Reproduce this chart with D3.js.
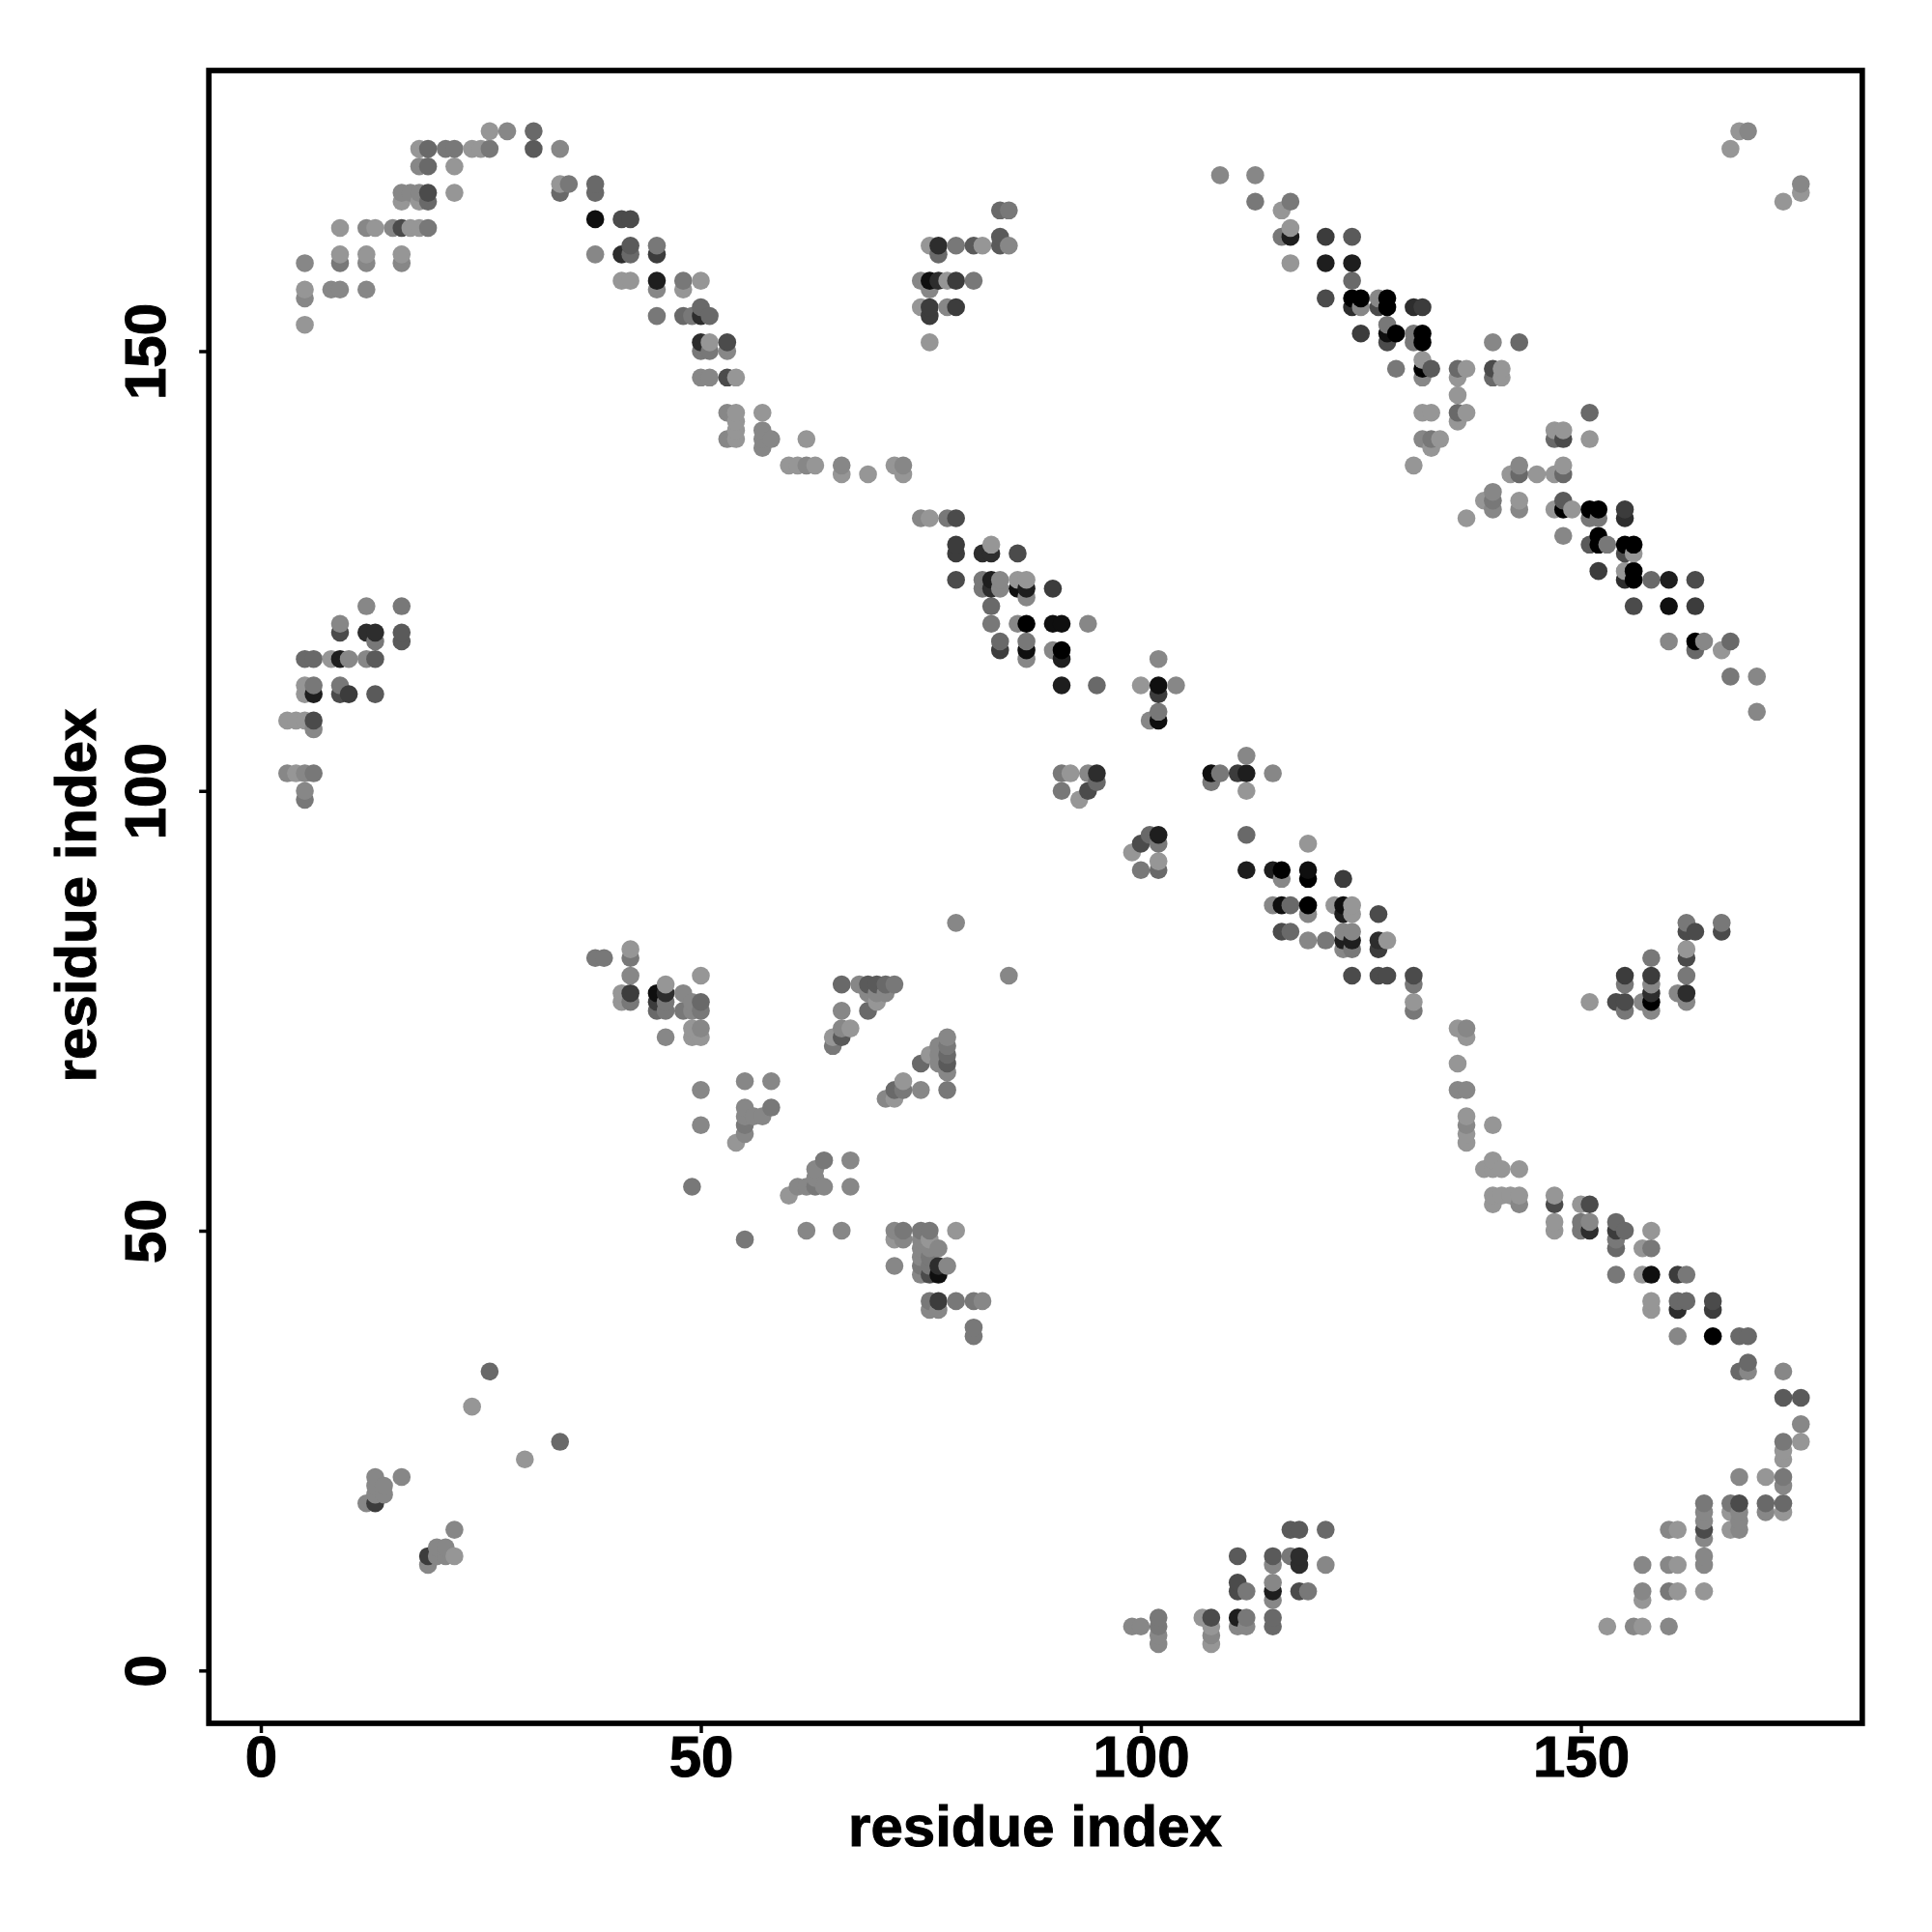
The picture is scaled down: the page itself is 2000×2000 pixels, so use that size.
<!DOCTYPE html>
<html><head><meta charset="utf-8">
<script src="https://cdn.jsdelivr.net/npm/d3@7"></script>
<style>html,body{margin:0;padding:0;background:#fff}svg{display:block}</style>
</head><body><svg id="c" width="2000" height="2000"></svg>
<script>
// each contact: [residue i, residue j, strength 0..10]
const arcUpperLeft = [
[26,175,0],[28,175,1],[31,175,3],[18,173,0],[19,173,3],[21,173,2],[22,173,2],[24,173,0],[25,173,0],[26,173,2],[31,173,4],[34,173,1],
[18,171,1],[19,171,3],[22,171,0],[34,169,0],[35,169,2],[38,169,3],[16,168,1],[17,168,1],[18,168,1],[19,168,5],[22,168,0],[34,168,3],[38,168,3],
[16,167,0],[18,167,0],[19,167,3],[38,165,9],[41,165,5],[42,165,5],[9,164,0],[12,164,1],[13,164,0],[15,164,1],[16,164,5],[17,164,0],[18,164,0],[19,164,2],
[42,162,4],[45,162,2],[9,161,0],[12,161,0],[16,161,0],[38,161,1],[41,161,7],[42,161,3],[45,161,6],[5,160,1],[9,160,2],[12,160,1],[16,160,1],
[41,158,0],[42,158,0],[45,158,8],[48,158,2],[50,158,0],[5,157,0],[8,157,1],[9,157,1],[12,157,1],[45,157,1],[48,157,0],[5,156,1],[50,155,3],
[45,154,2],[48,154,3],[49,154,2],[50,154,7],[51,154,3],[5,153,0],[50,151,7],[51,151,0],[53,151,5],[50,150,2],[51,150,2],[53,150,1],
[50,147,1],[51,147,1],[53,147,5],[54,147,0],[53,143,1],[54,143,0],[57,143,0],[54,142,0],[54,141,0],[57,141,1],[53,140,1],[54,140,0],[57,140,1],[58,140,1],[62,140,0],[57,139,1]
];
const arcMiddle = [
[60,137,0],[61,137,0],[62,137,1],[63,137,0],[66,137,1],[72,137,0],[73,137,1],[66,136,0],[69,136,0],[73,136,0],
[75,131,1],[76,131,0],[78,131,2],[79,131,5],[79,128,6],[83,128,0],[79,127,6],[82,127,7],[83,127,7],[86,127,5],
[79,124,5],[82,124,2],[83,124,8],[84,124,1],[86,124,0],[87,124,0],[82,123,2],[83,123,7],[84,123,1],[86,123,9],[87,123,8],[90,123,6],[87,122,1],[83,121,3],
[83,119,2],[86,119,1],[87,119,10],[90,119,9],[91,119,9],[94,119,1],[84,117,3],[87,117,2],[84,116,6],[87,116,9],[90,116,1],[91,116,10],[87,115,1],[91,115,8],[102,115,1],
[91,112,8],[95,112,3],[100,112,0],[102,112,9],[104,112,1],[102,111,6],[102,109,2],[101,108,1],[102,108,9],[112,104,1],
[91,102,2],[92,102,0],[94,102,1],[95,102,7],[108,102,9],[109,102,2],[111,102,6],[112,102,8],[115,102,1],[95,101,3],[108,101,2],[91,100,2],[94,100,5],[112,100,0],[93,99,0],
[101,95,3],[102,95,8],[112,95,3],[100,94,5],[102,94,2],[99,93,0],[102,92,0],[100,91,2],[102,91,3],[112,91,8],[115,91,8],[116,91,10],[116,90,1],
[115,87,1],[116,87,9],[117,87,3],[116,84,5],[117,84,3]
];
const arcLowerRight = [
[119,94,0],[119,91,9],[119,90,10],[123,90,6],[119,87,10],[122,87,0],[123,87,9],[124,87,0],[119,86,1],[123,86,8],[124,86,0],[127,86,5],
[123,84,1],[124,84,1],[119,83,1],[121,83,2],[123,83,8],[124,83,8],[127,83,7],[128,83,0],[123,82,1],[124,82,2],[127,82,6],
[124,79,5],[127,79,5],[128,79,5],[131,79,5],[131,78,2],[131,76,0],[131,75,2],[136,73,0],[137,73,1],[137,72,0],[136,69,0],[136,66,1],[137,66,1],
[137,63,0],[137,62,1],[140,62,0],[137,61,0],[137,60,0],[140,58,0],[139,57,0],[140,57,0],[141,57,0],[143,57,0],
[140,54,0],[141,54,0],[142,54,0],[143,54,0],[147,54,0],[140,53,0],[143,53,1],[147,53,5],[150,53,0],[151,53,5],[147,51,0],[150,51,2],[151,51,1],[154,51,3],
[147,50,0],[150,50,2],[151,50,7],[154,50,6],[155,50,3],[158,50,0],[154,49,2],[154,48,3],[157,48,0],[158,48,2],[154,45,2],[157,45,0],[158,45,9],[161,45,6],[162,45,2],
[158,42,0],[161,42,3],[162,42,3],[165,42,5],[158,41,0],[161,41,7],[165,41,6],[161,38,1],[165,38,10],[168,38,3],[169,38,3],[169,35,3],[168,34,3],[169,34,1],[173,34,1],
[173,31,4],[175,31,4],[175,28,1],[173,26,2],[175,26,0],[173,25,0],[173,24,0],[168,22,1],[171,22,0],[173,22,2],[173,21,1],
[164,19,2],[167,19,2],[168,19,5],[171,19,3],[173,19,3],[164,18,1],[167,18,0],[168,18,1],[171,18,1],[173,18,0],[164,17,1],[168,17,1],[160,16,1],[161,16,0],[164,16,5],[167,16,0],[168,16,1],[164,15,1],
[164,13,1],[157,12,1],[160,12,1],[161,12,0],[164,12,1],[157,9,1],[160,9,2],[161,9,0],[164,9,0],[157,8,0],[153,5,0],[156,5,1],[157,5,0],[160,5,1]
];
const patchTopRight = [
[109,170,1],[113,170,1],[113,167,2],[117,167,2],[116,166,0],[117,164,0],[116,163,2],[117,163,8],[117,160,0],[121,163,6],[124,163,4],[121,160,8],[124,160,8],[124,158,3],
[121,156,5],[124,156,10],[125,156,10],[127,156,1],[128,156,10],[124,155,7],[125,155,1],[127,155,5],[128,155,10],[131,155,7],[132,155,6],[128,153,2],[125,152,6],[128,152,9],[129,152,10],[131,152,2],[132,152,10],
[128,151,5],[131,151,2],[132,151,10],[140,151,1],[143,151,3],[132,149,0],[129,148,2],[132,148,10],[133,148,4],[136,148,3],[137,148,0],[140,148,5],[141,148,0],[132,147,1],[136,147,0],[140,147,3],[141,147,0],
[136,145,0],[132,143,0],[133,143,0],[136,143,3],[137,143,0],[151,143,3],[136,142,0],[147,141,0],[148,141,0],[132,140,1],[133,140,2],[134,140,0],[147,140,3],[148,140,5],[151,140,0],[133,139,0],
[131,137,0],[143,137,1],[148,137,0],[142,136,0],[143,136,3],[145,136,0],[147,136,0],[148,136,3],[140,134,1],[139,133,0],[140,133,2],[143,133,0],[148,133,4],
[140,132,1],[143,132,1],[147,132,0],[148,132,10],[149,132,0],[151,132,10],[152,132,10],[155,132,6],[137,131,0],[151,131,2],[152,131,2],[155,131,7],[148,129,1],[152,129,10],
[151,128,4],[152,128,10],[153,128,2],[155,128,10],[156,128,10],[155,127,5],[156,127,0],[152,125,6],[155,125,0],[156,125,10],[155,124,7],[156,124,10],[158,124,3],[160,124,8],[163,124,5],
[156,121,5],[160,121,9],[163,121,6],[160,117,1],[163,117,10],[164,117,1],[167,117,3],[163,116,3],[166,116,0],[167,113,2],[170,113,1],[170,109,1],
[168,175,0],[169,175,1],[167,173,0],[175,169,1],[175,168,0],[173,167,0]
];
const patchUpperCentre = [
[84,166,3],[85,166,2],[84,163,4],[76,162,0],[77,162,7],[79,162,2],[81,162,4],[82,162,0],[84,162,4],[85,162,1],[77,161,3],
[75,158,1],[76,158,9],[77,158,7],[78,158,0],[79,158,6],[81,158,2],[76,157,1],[75,155,0],[76,155,6],[78,155,1],[79,155,6],[76,154,6],[76,151,0]
];
const patchLeft = [
[12,121,1],[16,121,2],[9,119,1],[9,118,5],[12,118,7],[13,118,7],[16,118,4],[13,117,2],[16,117,4],
[5,115,3],[6,115,3],[8,115,0],[9,115,8],[10,115,1],[12,115,1],[13,115,4],[5,112,0],[6,112,2],[9,112,2],[5,111,0],[6,111,8],[9,111,5],[10,111,6],[13,111,4],
[3,108,0],[4,108,0],[5,108,0],[6,108,5],[6,107,1],[3,102,1],[4,102,0],[5,102,1],[6,102,2],[5,100,1],[5,99,2]
];
const patchLowerCentre = [
[42,82,0],[38,81,2],[39,81,2],[42,81,2],[42,79,1],[50,79,0],[46,78,0],[41,77,0],[42,77,6],[45,77,9],[46,77,7],[48,77,1],[41,76,0],[42,76,2],[45,76,6],[46,76,2],[49,76,1],[50,76,3],
[45,75,3],[46,75,2],[48,75,2],[49,75,1],[50,75,2],[49,73,0],[50,73,1],[46,72,1],[49,72,0],[50,72,0],[55,67,1],[58,67,1],[50,66,1],[55,64,1],[58,64,2],[55,63,1],[56,63,1],[57,63,1],[50,62,1],[55,62,2],[55,61,1],[54,60,0],
[64,58,2],[67,58,1],[63,57,1],[63,56,1],[49,55,2],[61,55,1],[62,55,1],[63,55,2],[64,55,1],[67,55,1],[60,54,0],[55,49,2],
[79,85,1],[85,79,1],[66,78,3],[68,78,1],[69,78,4],[70,78,4],[71,78,3],[72,78,2],[69,77,1],[70,77,1],[71,77,1],[70,76,0],[66,75,1],[69,75,3],[66,73,1],[67,73,0],[65,72,0],[66,72,4],[65,71,2],
[78,72,1],[77,71,1],[78,71,2],[76,70,0],[77,70,1],[78,70,3],[75,69,3],[77,69,1],[78,69,4],[78,68,1],[73,67,0],[72,66,3],[73,66,2],[75,66,1],[78,66,2],[71,65,1],[72,65,0],
[62,50,1],[66,50,1],[72,50,1],[73,50,2],[75,50,2],[76,50,2],[79,50,0],[72,49,0],[73,49,1],[75,49,1],[76,49,0],[75,48,1],[76,48,1],[77,48,1],[75,47,1],[76,47,2],
[72,46,1],[75,46,2],[76,46,2],[77,46,7],[78,46,1],[75,45,1],[76,45,5],[77,45,9],[76,42,2],[77,42,6],[79,42,2],[81,42,2],[82,42,1],[76,41,1],[77,41,1],[81,39,2],[81,38,2]
];
const patchBottom = [
[117,16,4],[118,16,4],[121,16,3],[111,13,4],[115,13,4],[117,13,2],[118,13,7],[115,12,1],[118,12,7],[121,12,1],[111,10,5],[115,10,1],
[111,9,5],[112,9,2],[115,9,8],[118,9,5],[119,9,2],[115,8,1],[102,6,2],[107,6,0],[108,6,5],[111,6,8],[112,6,2],[115,6,3],
[99,5,1],[100,5,1],[102,5,2],[108,5,0],[111,5,1],[112,5,1],[115,5,3],[102,4,1],[108,4,1],[102,3,1],[108,3,0]
];
const patchRightCentre = [
[162,85,2],[166,85,2],[162,84,5],[163,84,5],[166,84,5],[162,82,0],[158,81,2],[162,81,5],[155,79,6],[158,79,6],[162,79,2],[155,78,2],[158,78,1],[158,77,7],[161,77,1],[162,77,7],
[151,76,0],[154,76,5],[155,76,5],[157,76,1],[158,76,10],[162,76,1],[155,75,2],[158,75,1]
];
const patchSparse = [
[26,34,3],[24,30,0],[34,26,3],[30,24,0],[13,22,1],[16,22,1],[13,21,1],[14,21,1],[13,20,1],[14,20,1],[12,19,1],[13,19,6],
[22,16,1],[20,14,1],[21,14,1],[19,13,6],[20,13,1],[21,13,1],[22,13,0],[19,12,1]
];
const xTicks = [0, 50, 100, 150];
const yTicks = [0, 50, 100, 150];
const axisTitle = "residue index";

const contacts = [...arcUpperLeft, ...arcMiddle, ...arcLowerRight, ...patchTopRight, ...patchUpperCentre,
  ...patchLeft, ...patchLowerCentre, ...patchBottom, ...patchRightCentre, ...patchSparse]
  .map(([i, j, s]) => ({i, j, s}));
const ordered = d3.sort(contacts, (a, b) => a.i - b.i || a.j - b.j);

const FONT = '"Liberation Sans", Arial, Helvetica, sans-serif';
const box = {left: 216.2, right: 1927.8, top: 73, bottom: 1784};
const x = d3.scaleLinear().domain([0, 150]).range([270, 1636.5]);
const y = d3.scaleLinear().domain([0, 150]).range([1729.3, 363.5]);
const grey = d3.scaleLinear().domain([0, 10]).range([150, 0]);

const svg = d3.select("#c");
svg.append("rect").attr("width", 2000).attr("height", 2000).attr("fill", "#fff");

svg.append("g").selectAll("circle").data(ordered).join("circle")
  .attr("cx", d => x(d.i)).attr("cy", d => y(d.j)).attr("r", 9.3)
  .attr("fill", d => { const g = Math.round(grey(d.s)); return d3.rgb(g, g, g).formatHex(); });

const gx = svg.append("g").attr("transform", `translate(0,${box.bottom})`)
  .call(d3.axisBottom(x).tickValues(xTicks).tickSize(10).tickFormat(d3.format("d")));
gx.select(".domain").remove();
gx.selectAll("line").attr("stroke", "#000").attr("stroke-width", 3.5);
gx.selectAll("text").attr("y", 0).attr("dy", 55).attr("fill", "#000").attr("stroke", "#000").attr("stroke-width", 1)
  .attr("font-family", FONT).attr("font-weight", "bold").attr("font-size", 60).attr("text-anchor", "middle");

const gy = svg.append("g").attr("transform", `translate(${box.left},0)`)
  .call(d3.axisLeft(y).tickValues(yTicks).tickSize(10).tickFormat(d3.format("d")));
gy.select(".domain").remove();
gy.selectAll("line").attr("stroke", "#000").attr("stroke-width", 3.5);
gy.selectAll("text").attr("x", 0).attr("dy", 0).attr("y", 0).attr("text-anchor", "middle")
  .attr("transform", "translate(-45,0) rotate(-90)").attr("fill", "#000").attr("stroke", "#000").attr("stroke-width", 1)
  .attr("font-family", FONT).attr("font-weight", "bold").attr("font-size", 60);

svg.append("rect").attr("x", box.left).attr("y", box.top)
  .attr("width", box.right - box.left).attr("height", box.bottom - box.top)
  .attr("fill", "none").attr("stroke", "#000").attr("stroke-width", 5.7);

svg.append("text").attr("x", 1071.5).attr("y", 1911).attr("text-anchor", "middle").attr("stroke", "#000").attr("stroke-width", 1)
  .attr("font-family", FONT).attr("font-weight", "bold").attr("font-size", 60).text(axisTitle);
svg.append("text").attr("transform", "translate(99,927) rotate(-90)").attr("text-anchor", "middle").attr("stroke", "#000").attr("stroke-width", 1)
  .attr("font-family", FONT).attr("font-weight", "bold").attr("font-size", 60).text(axisTitle);
</script></body></html>
